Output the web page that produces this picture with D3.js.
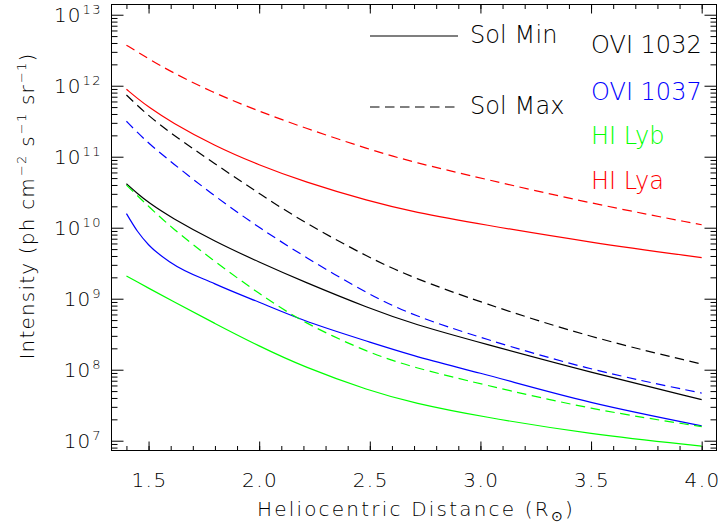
<!DOCTYPE html>
<html><head><meta charset="utf-8">
<script src="https://cdn.jsdelivr.net/npm/d3@7"></script>
<style>
body{margin:0;background:#fff}
text{font-family:"DejaVu Sans",sans-serif;font-weight:200;fill:#000}
</style>
</head><body><svg id="c" width="721" height="529"></svg>
<script>
// ---- data ----
const distance   = [1.4, 1.45, 1.5, 1.6, 1.8, 2.0, 2.2, 2.5, 2.7, 3.0, 3.5, 4.0];
const ovi1032Min = [4.17e10, 3.02e10, 2.26e10, 1.40e10, 6.38e9, 3.27e9, 1.74e9, 7.24e8, 4.37e8, 2.40e8, 9.12e7, 3.80e7];
const ovi1037Min = [1.58e10, 8.91e9, 5.75e9, 3.24e9, 1.62e9, 8.91e8, 5.01e8, 2.45e8, 1.58e8, 8.91e7, 3.47e7, 1.62e7];
const hiLybMin   = [2.09e9, 1.72e9, 1.41e9, 9.55e8, 4.47e8, 2.14e8, 1.10e8, 5.01e7, 3.39e7, 2.19e7, 1.23e7, 8.41e6];
const hiLyaMin   = [8.91e11, 6.61e11, 5.01e11, 3.09e11, 1.41e11, 7.59e10, 4.47e10, 2.34e10, 1.66e10, 1.12e10, 6.17e9, 3.80e9];
const ovi1032Max = [7.41e11, 5.25e11, 3.80e11, 2.14e11, 7.94e10, 3.02e10, 1.20e10, 3.72e9, 1.95e9, 8.91e8, 2.82e8, 1.20e8];
const ovi1037Max = [3.16e11, 2.19e11, 1.55e11, 8.51e10, 2.75e10, 1.00e10, 3.98e9, 1.12e9, 5.75e8, 2.82e8, 9.77e7, 4.68e7];
const hiLybMax   = [3.98e10, 2.82e10, 2.00e10, 1.02e10, 3.31e9, 1.17e9, 4.57e8, 1.70e8, 1.07e8, 6.31e7, 2.75e7, 1.58e7];
const hiLyaMax   = [3.72e12, 2.99e12, 2.40e12, 1.58e12, 7.76e11, 4.37e11, 2.57e11, 1.26e11, 8.32e10, 5.01e10, 2.19e10, 1.10e10];
const lineNames  = ["OVI 1032", "OVI 1037", "HI Lyb", "HI Lya"];
const lineColors = ["#000000", "#0000ff", "#00ff00", "#ff0000"];
const cycleNames = ["Sol Min", "Sol Max"];
const xTickValues = [1.5, 2.0, 2.5, 3.0, 3.5, 4.0];
const yExponents  = [7, 8, 9, 10, 11, 12, 13];

const DASH = "9.5,5.5";
const series = [
  {vals: ovi1032Min, color: lineColors[0], dash: null, smooth: true},
  {vals: ovi1037Min, color: lineColors[1], dash: null, smooth: false},
  {vals: hiLybMin,   color: lineColors[2], dash: null, smooth: true},
  {vals: hiLyaMin,   color: lineColors[3], dash: null, smooth: true},
  {vals: ovi1032Max, color: lineColors[0], dash: DASH, smooth: true},
  {vals: ovi1037Max, color: lineColors[1], dash: DASH, smooth: true},
  {vals: hiLybMax,   color: lineColors[2], dash: DASH, smooth: true},
  {vals: hiLyaMax,   color: lineColors[3], dash: DASH, smooth: true}
];

// ---- layout ----
const L = 111.5, R = 716.5, T = 4.5, B = 450.5;
const svg = d3.select("#c");
const x = d3.scaleLinear().domain([1.3325, 4.067]).range([L, R]);
const y = d3.scaleLog().domain([7.28e6, 1.393e13]).range([B, T]);

// curves
const lineSmooth = d3.line().x((d, i) => x(distance[i])).y(d => y(d)).curve(d3.curveBasis);
const lineMono = d3.line().x((d, i) => x(distance[i])).y(d => y(d)).curve(d3.curveMonotoneX);
svg.append("g").selectAll("path").data(series).join("path")
  .attr("d", d => (d.smooth ? lineSmooth : lineMono)(d.vals))
  .attr("fill", "none")
  .attr("stroke", d => d.color)
  .attr("stroke-width", 1.2)
  .attr("stroke-dasharray", d => d.dash);

// ticks
const xMinor = d3.range(14, 41).map(v => v / 10);
const yMajor = yExponents.map(e => Math.pow(10, e));
const yMinor = [];
for (let e = 6; e <= 13; e++) for (let m = 2; m <= 9; m++) {
  const v = m * Math.pow(10, e);
  if (v > y.domain()[0] && v < y.domain()[1]) yMinor.push(v);
}
function styleAxis(g) {
  g.select(".domain").remove();
  g.selectAll("line").attr("stroke", "#000").attr("stroke-width", 1);
  g.selectAll("text").remove();
}
svg.append("g").attr("transform", `translate(0,${B})`).call(d3.axisBottom(x).tickValues(xMinor).tickSize(-4.5)).call(styleAxis);
svg.append("g").attr("transform", `translate(0,${B})`).call(d3.axisBottom(x).tickValues(xTickValues).tickSize(-9)).call(styleAxis);
svg.append("g").attr("transform", `translate(0,${T})`).call(d3.axisTop(x).tickValues(xMinor).tickSize(-4.5)).call(styleAxis);
svg.append("g").attr("transform", `translate(0,${T})`).call(d3.axisTop(x).tickValues(xTickValues).tickSize(-9)).call(styleAxis);
svg.append("g").attr("transform", `translate(${L},0)`).call(d3.axisLeft(y).tickValues(yMinor).tickSize(-6)).call(styleAxis);
svg.append("g").attr("transform", `translate(${L},0)`).call(d3.axisLeft(y).tickValues(yMajor).tickSize(-12)).call(styleAxis);
svg.append("g").attr("transform", `translate(${R},0)`).call(d3.axisRight(y).tickValues(yMinor).tickSize(-6)).call(styleAxis);
svg.append("g").attr("transform", `translate(${R},0)`).call(d3.axisRight(y).tickValues(yMajor).tickSize(-12)).call(styleAxis);

// frame
svg.append("rect").attr("x", L).attr("y", T).attr("width", R - L).attr("height", B - T)
  .attr("fill", "none").attr("stroke", "#000").attr("stroke-width", 1);

// x tick labels
svg.append("g").selectAll("text").data(xTickValues).join("text")
  .attr("x", d => x(d) + 1).attr("y", B + 36)
  .attr("text-anchor", "middle").attr("font-size", 20).attr("letter-spacing", 1.5)
  .text(d3.format(".1f"));

// y tick labels
const yl = svg.append("g").selectAll("text").data(yExponents).join("text")
  .attr("x", 102).attr("y", d => y(Math.pow(10, d)) + 7)
  .attr("text-anchor", "end").attr("font-size", 20);
yl.append("tspan").attr("letter-spacing", 1).text("10");
yl.append("tspan").attr("dx", 1).attr("dy", -8).attr("font-size", 13).attr("letter-spacing", 1.5).text(d => d);

// axis titles
const xt = svg.append("text").attr("x", 416).attr("y", 516).attr("text-anchor", "middle")
  .attr("font-size", 20).attr("letter-spacing", 2.2);
xt.append("tspan").text("Heliocentric Distance (R");
xt.append("tspan").attr("dy", 5).attr("font-size", 14).text("\u2299");
xt.append("tspan").attr("dy", -5).text(")");

const yt = svg.append("text").attr("transform", "translate(34,206) rotate(-90)")
  .attr("text-anchor", "middle").attr("font-size", 20).attr("letter-spacing", 1.2);
const ytParts = [["Intensity (ph cm", 0], ["\u22122", 1], [" s", 0], ["\u22121", 1], [" sr", 0], ["\u22121", 1], [")", 0]];
let prevSup = 0;
ytParts.forEach(([t, sup]) => {
  const ts = yt.append("tspan").text(t);
  if (sup) ts.attr("font-size", 13).attr("dy", -8).attr("dx", 1);
  else if (prevSup) ts.attr("dy", 8);
  prevSup = sup;
});

// legend: cycles
const legCycles = svg.append("g").selectAll("g").data(cycleNames).join("g");
const legY = [36, 107];
legCycles.append("line").attr("x1", 370).attr("x2", 458)
  .attr("y1", (d, i) => legY[i]).attr("y2", (d, i) => legY[i])
  .attr("stroke", "#000").attr("stroke-width", 1.2)
  .attr("stroke-dasharray", (d, i) => i ? DASH : null);
legCycles.append("text").attr("x", 470).attr("y", (d, i) => legY[i] + 7)
  .attr("font-size", 24).attr("letter-spacing", 0.1).text(d => d);

// legend: lines
const lineLabY = [53, 100, 144, 189];
svg.append("g").selectAll("text").data(lineNames).join("text")
  .attr("x", 591).attr("y", (d, i) => lineLabY[i])
  .attr("font-size", 24).attr("letter-spacing", 0)
  .style("fill", (d, i) => lineColors[i]).text(d => d);
</script>
</body></html>
